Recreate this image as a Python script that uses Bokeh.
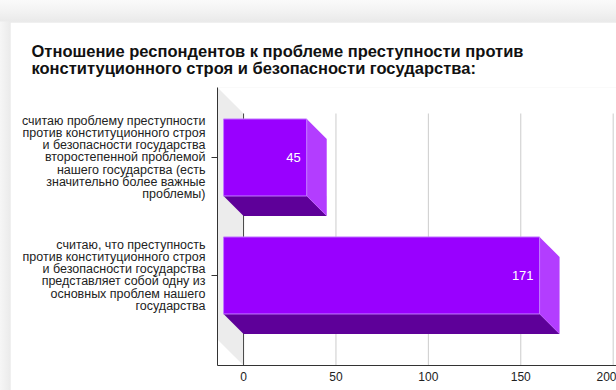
from bokeh.plotting import figure
from bokeh.layouts import column
from bokeh.models import Range1d, FixedTicker, ColumnDataSource, Title
from bokeh.embed import file_html
from bokeh.resources import INLINE
from bokeh.core.properties import value

# ---- data -------------------------------------------------------------
title_lines = [
    "Отношение респондентов к проблеме преступности против",
    "конституционного строя и безопасности государства:",
]
categories = [
    "считаю проблему преступности\nпротив конституционного строя\nи безопасности государства\n"
    "второстепенной проблемой\nнашего государства (есть\nзначительно более важные\nпроблемы)",
    "считаю, что преступность\nпротив конституционного строя\nи безопасности государства\n"
    "представляет собой одну из\nосновных проблем нашего\nгосударства",
]
counts = [45, 171]
x_ticks = [0, 50, 100, 150, 200]

# ---- layout / style ---------------------------------------------------
PAGE_W, PAGE_H = 616, 390
CARD_X, CARD_Y = 10, 22                 # white card offset on the page
W, H = PAGE_W - CARD_X, PAGE_H - CARD_Y
FRAME_L, FRAME_T, FRAME_B = 207, 65, 25
FONT = "Liberation Sans"
FRONT, SIDE, BOTTOM, EDGE = "#9900ff", "#b33dff", "#5e0099", "#c27aff"

x_range = Range1d(-14.1, 201.8)
y_range = Range1d(-0.763, 1.593)
frame_w = W - FRAME_L
frame_h = H - FRAME_T - FRAME_B
kx = frame_w / (x_range.end - x_range.start)   # px per value unit
ky = frame_h / (y_range.end - y_range.start)   # px per category step

bar_dx, bar_dy = 20 / kx, 20 / ky      # 3D depth of each bar
wall_dy = 26 / ky                       # depth of the chart box
half = 38.5 / ky                        # half height of a bar's front face

n = len(categories)
pos = [n - 1 - i for i in range(n)]

p = figure(width=W, height=H, x_range=x_range, y_range=y_range, title=None,
           output_backend="svg", toolbar_location=None,
           min_border_left=FRAME_L, min_border_top=FRAME_T,
           min_border_bottom=FRAME_B, min_border_right=0)
p.margin = (CARD_Y, 0, 0, CARD_X)
p.border_fill_color = "white"
p.background_fill_color = "white"
p.outline_line_color = None
p.xgrid.visible = False
p.ygrid.visible = False

# side wall of the 3D box
y0, y1 = y_range.start, y_range.end
p.patch([x_range.start, 0, 0, x_range.start],
        [y1, y1 - wall_dy, y0, y0 + wall_dy],
        fill_color="#ececec", line_color=None)

# gridlines on the back plane
grid = ColumnDataSource(dict(x=[t for t in x_ticks if t != 0]))
p.segment(x0="x", x1="x", y0=y0, y1=y1 - wall_dy, source=grid,
          line_color="#cccccc", line_width=1)
p.segment(x0=0, x1=0, y0=y0, y1=y1 - wall_dy, line_color="#444444", line_width=1)

# bars: bottom face, side face, front face
bot_xs = [[-bar_dx, v - bar_dx, v, 0] for v in counts]
bot_ys = [[y - half, y - half, y - half - bar_dy, y - half - bar_dy] for y in pos]
p.patches(bot_xs, bot_ys, fill_color=BOTTOM, line_color=None)
side_xs = [[v - bar_dx, v, v, v - bar_dx] for v in counts]
side_ys = [[y + half, y + half - bar_dy, y - half - bar_dy, y - half] for y in pos]
p.patches(side_xs, side_ys, fill_color=SIDE, line_color=None)
front = ColumnDataSource(dict(
    left=[-bar_dx] * n, right=[v - bar_dx for v in counts],
    top=[y + half for y in pos], bottom=[y - half for y in pos],
    lx=[v - bar_dx for v in counts], ly=pos, txt=[str(v) for v in counts]))
p.quad(left="left", right="right", top="top", bottom="bottom", source=front,
       fill_color=FRONT, line_color=EDGE, line_width=1)
p.text(x="lx", y="ly", text="txt", source=front, x_offset=-6,
       text_align="right", text_baseline="middle", text_color="white",
       text_font=value(FONT), text_font_size="13px")

# axes
p.xaxis.ticker = FixedTicker(ticks=x_ticks)
p.xaxis.major_tick_out = 0
p.xaxis.major_tick_in = 0
p.xaxis.minor_tick_line_color = None
p.xaxis.axis_line_color = "#333333"
p.xaxis.major_label_text_font = FONT
p.xaxis.major_label_text_font_size = "12px"
p.xaxis.major_label_text_color = "#222222"
p.xaxis.major_label_standoff = 6

p.yaxis.ticker = FixedTicker(ticks=pos)
p.yaxis.major_label_overrides = {y: c for y, c in zip(pos, categories)}
p.yaxis.major_tick_out = 6
p.yaxis.major_tick_in = 0
p.yaxis.minor_tick_line_color = None
p.yaxis.axis_line_color = "#333333"
p.yaxis.major_tick_line_color = "#333333"
p.yaxis.major_label_text_font = FONT
p.yaxis.major_label_text_font_size = "12.5px"
p.yaxis.major_label_text_color = "#222222"
p.yaxis.major_label_text_align = "right"
p.yaxis.major_label_text_line_height = 0.86
p.yaxis.major_label_standoff = 6

# two-line heading
p.add_layout(Title(text="\n".join(title_lines), align="left", offset=21 - FRAME_L,
                   standoff=21, text_font=FONT, text_font_size="16.5px",
                   text_font_style="bold", text_color="#111111",
                   text_line_height=0.92), "above")

# page backdrop with a soft shadow above and left of the card
page = column(p, width=PAGE_W, height=PAGE_H, styles={
    "background": "linear-gradient(to bottom, #fafafa 0px, #f2f2f2 12px, #eaeaea 21px, "
                  "rgba(255,255,255,0) 22px), linear-gradient(to right, #f6f6f6 0px, #ebebeb 10px)",
})

open("out.html", "w").write(file_html(page, INLINE))
